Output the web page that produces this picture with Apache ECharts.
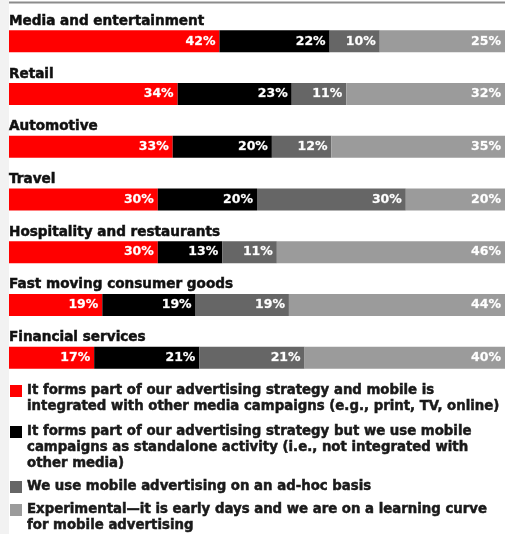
<!DOCTYPE html>
<html><head><meta charset="utf-8">
<script src="https://cdn.jsdelivr.net/npm/echarts@6/dist/echarts.min.js"></script>
<style>html,body{margin:0;padding:0;background:#fff}#c{width:505px;height:534px}</style>
</head><body><div id="c"></div>
<script>
const categories = ['Media and entertainment','Retail','Automotive','Travel','Hospitality and restaurants','Fast moving consumer goods','Financial services'];
const integrated = [42,34,33,30,30,19,17];
const standalone = [22,23,20,20,13,19,21];
const adHoc = [10,11,12,30,11,19,21];
const experimental = [25,32,35,20,46,44,40];
const seriesNames = [
  'It forms part of our advertising strategy and mobile is\nintegrated with other media campaigns (e.g., print, TV, online)',
  'It forms part of our advertising strategy but we use mobile\ncampaigns as standalone activity (i.e., not integrated with\nother media)',
  'We use mobile advertising on an ad-hoc basis',
  'Experimental\u2014it is early days and we are on a learning curve\nfor mobile advertising'
];
const colors = ['#ff0000','#000000','#666666','#9b9b9b'];

const raw = [integrated, standalone, adHoc, experimental];
const totals = categories.map((c,i)=>raw.reduce((s,a)=>s+a[i],0));
const FONT = '"DejaVu Sans", Verdana, sans-serif';

const series = raw.map((arr,k)=>({
  name: seriesNames[k],
  type: 'bar',
  stack: 'all',
  barWidth: 22,
  itemStyle: {color: colors[k]},
  data: arr.map((v,i)=>v/totals[i]*100),
  label: {
    show: true, position: 'insideRight', distance: 4,
    color: '#fff', fontWeight: 'bold', fontSize: 12.5, fontFamily: FONT,
    textBorderColor: 'rgba(255,255,255,0.6)', textBorderWidth: 0.4,
    formatter: p => arr[p.dataIndex] + '%'
  },
  emphasis: {disabled: true}
}));

// legend drawn as graphic so the swatch lines up with the first text line
const graphics = [
  {type:'rect', shape:{x:0,y:0,width:9,height:534}, style:{fill:'#f2f2f2'}, z:-1},
  {type:'line', shape:{x1:9,y1:2.5,x2:505,y2:2.5}, style:{stroke:'#8c8c8c', lineWidth:2}}
];
let y = 383;
const LH = 16;
const gaps = [9, 7, 7, 0];
seriesNames.forEach((n,k)=>{
  const lines = n.split('\n').length;
  graphics.push({type:'rect', shape:{x:10,y:y+2,width:12,height:12}, style:{fill:colors[k]}});
  graphics.push({type:'text', x:27, y:y, style:{text:n, fill:'#1a1a1a', fontSize:13.3, fontWeight:'bold', fontFamily:FONT,
    lineHeight:LH, verticalAlign:'top', stroke:'#1a1a1a', lineWidth:0.5}});
  y += lines*LH + gaps[k];
});

const chart = echarts.init(document.getElementById('c'), null, {renderer:'canvas'});
chart.setOption({
  animation: false,
  backgroundColor: '#fff',
  grid: {left: 9, right: 0, top: 15, bottom: 150, containLabel: false},
  xAxis: {type:'value', min:0, max:100, show:false},
  yAxis: {
    type:'category', data: categories, inverse: true,
    axisLine:{show:false}, axisTick:{show:false}, splitLine:{show:false},
    axisLabel:{inside:true, margin:0, align:'left', verticalAlign:'bottom', padding:[0,0,13,0],
      color:'#111', fontWeight:'bold', fontSize:13.6, fontFamily:FONT,
      textBorderColor:'#111', textBorderWidth:0.5}
  },
  legend: {show:false},
  series: series,
  graphic: graphics
});
</script></body></html>
